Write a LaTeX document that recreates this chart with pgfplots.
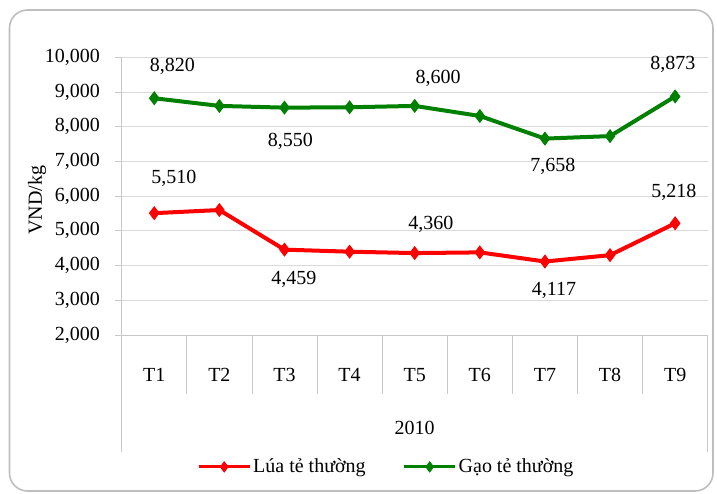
\documentclass[border=0pt]{standalone}
\usepackage{fontspec}
\setmainfont{Liberation Serif}
\usepackage{pgfplots}
\pgfplotsset{compat=1.18}
\definecolor{gridgray}{RGB}{217,217,217}
\definecolor{axgray}{RGB}{200,200,200}
\definecolor{framegray}{RGB}{190,190,190}
\definecolor{lred}{RGB}{255,0,0}
\definecolor{lgreen}{RGB}{0,128,0}
\begin{document}
\fontsize{20bp}{23bp}\selectfont
\begin{tikzpicture}
\begin{axis}[
  scale only axis, width=586bp, height=277.7bp,
  xmin=0.5, xmax=9.5, ymin=2000, ymax=10000,
  ytick={2000,3000,4000,5000,6000,7000,8000,9000,10000},
  xtick={1,2,3,4,5,6,7,8,9},
  xticklabels={T1,T2,T3,T4,T5,T6,T7,T8,T9},
  scaled y ticks=false,
  /pgf/number format/.cd, 1000 sep={,}, assume math mode=true, /pgfplots/.cd,
  axis x line*=bottom, axis y line*=left,
  axis line style={draw=axgray, line width=0.8bp},
  tick align=outside, major tick length=7bp,
  xtick style={draw=none},
  ytick style={draw=axgray, line width=0.8bp},
  ymajorgrids, grid style={draw=gridgray, line width=0.8bp},
  yticklabel style={anchor=east, inner sep=0pt, xshift=-14.7bp},
  xticklabel style={anchor=center, yshift=-33bp},
  xlabel={2010},
  xlabel style={at={(axis description cs:0.5,0)}, anchor=center, yshift=-92.5bp},
  ylabel={VND/kg},
  ylabel style={at={(axis description cs:0,0.486)}, anchor=center, yshift=84.7bp},
  clip=false,
  legend columns=2,
  legend style={at={(axis description cs:0.1285,-0.475)}, anchor=west, draw=none, fill=none,
    inner sep=0pt, nodes={inner sep=2bp},
    /tikz/every even column/.append style={column sep=35bp}},
  legend image code/.code={\draw[mark repeat=2,mark phase=2,#1,line width=3bp,mark size=5bp] plot coordinates {(0bp,0bp) (25.5bp,0bp) (51bp,0bp)};},
]
\addplot[lred, line width=4bp, mark=diamond*, mark size=6.3bp, mark options={solid, line width=1bp}]
  coordinates {(1,5510)(2,5600)(3,4459)(4,4400)(5,4360)(6,4380)(7,4117)(8,4300)(9,5218)};
\addlegendentry{Lúa tẻ thường}
\addplot[lgreen, line width=4bp, mark=diamond*, mark size=6.3bp, mark options={solid, line width=1bp}]
  coordinates {(1,8820)(2,8600)(3,8550)(4,8560)(5,8600)(6,8310)(7,7658)(8,7730)(9,8873)};
\addlegendentry{Gạo tẻ thường}
% data labels
\node[anchor=base] at (axis cs:1.280,9586) {8,820};
\node[anchor=base] at (axis cs:3.092,7425) {8,550};
\node[anchor=base] at (axis cs:5.358,9251) {8,600};
\node[anchor=base] at (axis cs:7.124,6705) {7,658};
\node[anchor=base] at (axis cs:8.967,9635) {8,873};
\node[anchor=base] at (axis cs:1.303,6370) {5,510};
\node[anchor=base] at (axis cs:3.146,3461) {4,459};
\node[anchor=base] at (axis cs:5.250,5025) {4,360};
\node[anchor=base] at (axis cs:7.140,3124) {4,117};
\node[anchor=base] at (axis cs:8.982,5967) {5,218};
% category box below the plot
\pgfplotsinvokeforeach{1.5,2.5,3.5,4.5,5.5,6.5,7.5,8.5}{
  \draw[axgray, line width=0.8bp] (axis cs:#1,2000) -- ([yshift=-59bp]axis cs:#1,2000);
}
\draw[axgray, line width=0.8bp] (axis cs:0.5,2000) -- ([yshift=-117bp]axis cs:0.5,2000);
\draw[axgray, line width=0.8bp] (axis cs:9.5,2000) -- ([yshift=-117bp]axis cs:9.5,2000);
\end{axis}
\draw[framegray, line width=1.6bp, rounded corners=18bp] (-112.2bp,-156bp) rectangle (591.3bp,325bp);
\pgfresetboundingbox
\path[use as bounding box] (-121.7bp,-159bp) rectangle (595.3bp,335bp);
\end{tikzpicture}
\end{document}
